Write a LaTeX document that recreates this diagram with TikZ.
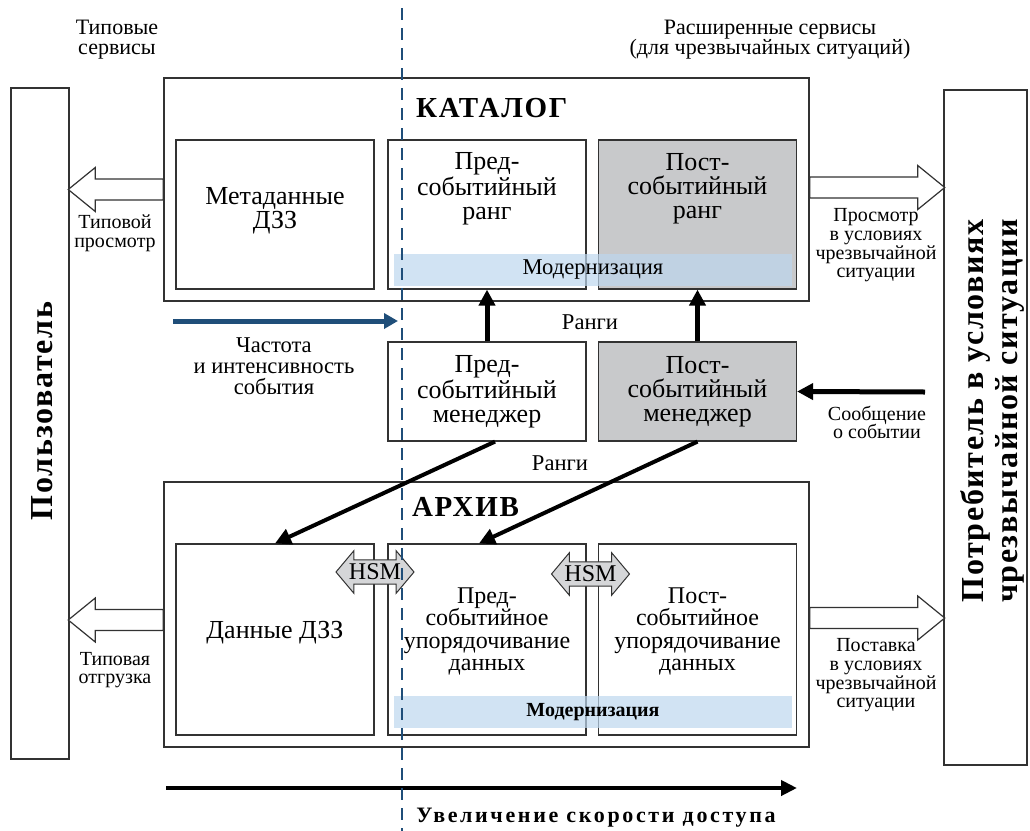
\documentclass[tikz,border=0pt]{standalone}
\usepackage{fontspec}
\setmainfont{Liberation Serif}
\usetikzlibrary{arrows.meta, shapes.arrows}

\definecolor{linegray}{RGB}{50,50,50}
\definecolor{boxgray}{RGB}{200,201,203}
\definecolor{bandblue}{RGB}{189,215,238}
\definecolor{navy}{RGB}{31,78,121}
\definecolor{hsmgray}{RGB}{213,214,216}

\tikzset{
  outerbox/.style={draw=linegray, line width=0.75pt, inner sep=0pt, minimum width=322.5pt},
  box/.style={draw=linegray, line width=0.6pt, inner sep=0pt, minimum width=99pt},
  boxtext/.style={align=center, font=\fontsize{13}{12}\selectfont},
  archtext/.style={align=center, font=\fontsize{12}{11.2}\selectfont},
  note/.style={align=center, font=\fontsize{10}{9.3}\selectfont},
  bignote/.style={align=center, font=\fontsize{11.3}{10.5}\selectfont},
  band/.style={fill=bandblue, fill opacity=0.7, text opacity=1, minimum width=199pt, minimum height=16pt, inner sep=0pt},
  hsm/.style={double arrow, draw=linegray, fill=hsmgray, line width=0.5pt, minimum height=39pt,
    double arrow head extend=4.5pt, double arrow tip angle=100, inner xsep=0pt, inner ysep=1.8pt,
    font=\fontsize{12}{12}\selectfont},
  blockarr/.style={draw=linegray, fill=white, line width=0.6pt},
  rankarr/.style={line width=2.5pt, -{Triangle[length=8pt, width=8pt]}},
  diagarr/.style={line width=2pt, -{Triangle[length=8pt, width=8pt]}},
  sidelabel/.style={rotate=90, align=center, font=\fontsize{16}{17}\selectfont\bfseries\addfontfeature{LetterSpace=5}},
}

% block arrow: start, shaft length, head length (signed, in px)
\newcommand{\blockarrow}[3]{%
  \draw[blockarr] (#1) ++(0,-10.5) -- ++(#2,0) -- ++(0,-11.5) -- ++(#3,22)
    -- ++({-1*(#3)},22) -- ++(0,-11.5) -- ++({-1*(#2)},0) -- cycle;}

\begin{document}
\begin{tikzpicture}[x=0.5pt, y=-0.5pt]
\useasboundingbox (0,0) rectangle (1030,831);

% users
\node[draw=linegray, line width=0.6pt, minimum width=29pt, minimum height=335.5pt] (user) at (40,423.5) {};
\node[sidelabel] (userlbl) at (42,411) {Пользователь};
\node[draw=linegray, line width=0.6pt, minimum width=41.5pt, minimum height=337.5pt] (cons) at (985.5,427.5) {};
\node[sidelabel] (conslbl) at (992,411) {Потребитель в условиях\\чрезвычайной ситуации};

% top labels
\node[align=center, font=\fontsize{11}{10}\selectfont] (typsrv) at (117,40) {Типовые\\сервисы};
\node[align=center, font=\fontsize{11}{10}\selectfont] (extsrv) at (770,40) {Расширенные сервисы\\(для чрезвычайных ситуаций)};

% catalog
\node[outerbox, minimum height=111.5pt] (cat) at (486.5,189.5) {};
\node[anchor=west, font=\fontsize{14.5}{16}\selectfont\bfseries\addfontfeature{LetterSpace=6}] (catlbl) at (409,108) {КАТАЛОГ};
\node[box, minimum height=74.5pt] (meta) at (275,214.5) {};
\node[boxtext] (metat) at ([yshift=2pt]meta.center) {Метаданные\\ДЗЗ};
\node[box, minimum height=74.5pt] (prerank) at (487,214.5) {};
\node[boxtext] (prerankt) at ([yshift=13pt]prerank.center) {Пред-\\событийный\\ранг};
\node[box, fill=boxgray, minimum height=74.5pt] (postrank) at (697.5,214.5) {};
\node[boxtext] (postrankt) at ([yshift=13pt]postrank.center) {Пост-\\событийный\\ранг};
\node[band, font=\fontsize{11.3}{12}\selectfont] (catband) at (593,270) {Модернизация};

% managers
\node[box, minimum height=49.5pt] (preman) at (487,391.5) {};
\node[boxtext] (premant) at (preman.center) {Пред-\\событийный\\менеджер};
\node[box, fill=boxgray, minimum height=49.5pt] (postman) at (697.5,391.5) {};
\node[boxtext] (postmant) at (postman.center) {Пост-\\событийный\\менеджер};

% archive
\node[outerbox, minimum height=132.5pt] (arch) at (486.5,614.5) {};
\node[anchor=west, font=\fontsize{14.5}{16}\selectfont\bfseries\addfontfeature{LetterSpace=6}] (archlbl) at (405,507) {АРХИВ};
\node[box, minimum height=95.5pt] (dzz) at (275,639.5) {};
\node[boxtext] (dzzt) at ([yshift=3.5pt]dzz.center) {Данные ДЗЗ};
\node[box, minimum height=95.5pt] (prearr) at (487,639.5) {};
\node[archtext] (prearrt) at ([yshift=4pt]prearr.center) {Пред-\\событийное\\упорядочивание\\данных};
\node[box, minimum height=95.5pt] (postarr) at (697.5,639.5) {};
\node[archtext] (postarrt) at ([yshift=4pt]postarr.center) {Пост-\\событийное\\упорядочивание\\данных};
\node[band, font=\fontsize{10}{12}\selectfont\bfseries] (archband) at (593,712) {Модернизация};
\node[hsm] (hsm1) at (375,572) {HSM};
\node[hsm] (hsm2) at (590.5,574) {HSM};

% block arrows
\blockarrow{cat.west}{-68}{-27}
\blockarrow{[yshift=-2.75pt]arch.west}{-68}{-27}
\blockarrow{[yshift=1pt]cat.east}{108}{27}
\blockarrow{[yshift=-1.75pt]arch.east}{108}{27}
\node[note] (viewlbl) at (115,233) {Типовой\\просмотр};
\node[note] (shiplbl) at (115,670) {Типовая\\отгрузка};
\node[note] (emviewlbl) at (876,245.5) {Просмотр\\в условиях\\чрезвычайной\\ситуации};
\node[note] (emshiplbl) at (876,675.5) {Поставка\\в условиях\\чрезвычайной\\ситуации};

% ranks and events
\draw[rankarr] (preman) -- (prerank);
\draw[rankarr] (postman) -- (postrank);
\node[bignote] (rank1) at (590,322) {Ранги};
\draw[diagarr] ([xshift=4pt]preman.south) -- (dzz.north);
\draw[diagarr] (postman.south) -- ([xshift=-4pt]prearr.north);
\node[bignote] (rank2) at (560,463) {Ранги};

\coordinate (msg) at (925,392);
\draw[rankarr] (msg) -- (postman.east);
\node[note] (msglbl) at (877,422.5) {Сообщение\\о событии};

\coordinate (freqA) at (173,321);
\coordinate (freqB) at (398,321);
\draw[navy, line width=2.5pt, -{Triangle[length=7pt, width=7.5pt]}] (freqA) -- (freqB);
\node[bignote] (freqlbl) at (274,366) {Частота\\и интенсивность\\события};

% access speed
\coordinate (speedA) at (166,788);
\coordinate (speedB) at (797,788);
\draw[line width=2pt, -{Triangle[length=8pt, width=7.5pt]}] (speedA) -- (speedB);
\node[font=\fontsize{11}{12}\selectfont\bfseries\addfontfeature{LetterSpace=12}] (speedlbl) at (596,818) {Увеличение скорости доступа};

% divider
\coordinate (divA) at (402,8);
\coordinate (divB) at (402,831);
\draw[navy, line width=1pt, dash pattern=on 6pt off 4pt] (divA) -- (divB);
\end{tikzpicture}
\end{document}
